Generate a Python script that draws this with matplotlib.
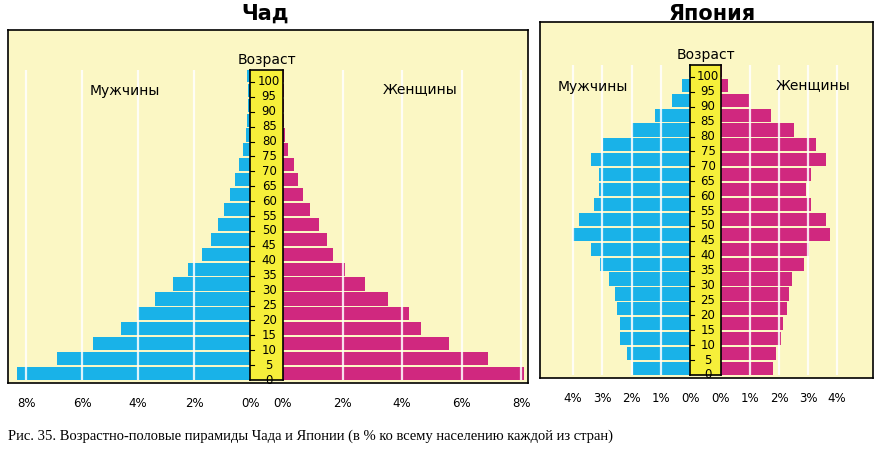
import numpy as np
import matplotlib.pyplot as plt
from matplotlib.patches import Rectangle

ages = np.arange(0, 105, 5)
age_ticks = np.arange(0, 105, 5)

chad_m = [8.33, 6.9, 5.6, 4.6, 4.0, 3.4, 2.74, 2.22, 1.72, 1.39, 1.16, 0.92, 0.73,
          0.53, 0.38, 0.24, 0.15, 0.1, 0.08, 0.06, 0.1]
chad_f = [8.27, 6.9, 5.57, 4.63, 4.22, 3.52, 2.76, 2.08, 1.67, 1.49, 1.22, 0.91, 0.68,
          0.52, 0.36, 0.18, 0.06, 0.02, 0.02, 0.02, 0.02]
japan_m = [1.94, 2.15, 2.38, 2.38, 2.48, 2.57, 2.78, 3.07, 3.39, 4.0, 3.79, 3.28, 3.11,
           3.11, 3.4, 2.97, 1.97, 1.2, 0.63, 0.26, 0.05]
japan_f = [1.78, 1.89, 2.06, 2.13, 2.28, 2.35, 2.44, 2.86, 3.02, 3.75, 3.63, 3.11, 2.92,
           3.11, 3.61, 3.27, 2.51, 1.71, 0.98, 0.24, 0.05]

BG = '#fbf7c4'
BLUE = '#19b2e8'
PINK = '#d0287f'
BAND = '#f6ef3a'

W, H = 886, 454
fig = plt.figure(figsize=(W / 100, H / 100), dpi=100)
fig.patch.set_facecolor('white')


def px_axes(x0, y0, x1, y1, **kw):
    return fig.add_axes([x0 / W, 1 - y1 / H, (x1 - x0) / W, (y1 - y0) / H], **kw)


def pyramid(frame, lx0, zl, zr, rx1, ppl, ppr, ybot, ytop, males, females, ticks, title, tx):
    # frame
    fa = px_axes(*frame)
    fa.set_facecolor(BG)
    fa.set_xticks([]); fa.set_yticks([])
    for s in fa.spines.values():
        s.set_linewidth(1.2)
    ymax = (ybot - ytop) / 2.98
    # male side
    la = px_axes(lx0, ytop, zl, ybot)
    ra = px_axes(zr, ytop, rx1, ybot)
    la.set_xlim((zl - lx0) / ppl, 0)
    ra.set_xlim(0, (rx1 - zr) / ppr)
    for ax, vals, col in ((la, males, BLUE), (ra, females, PINK)):
        ax.patch.set_alpha(0)
        ax.barh(ages, vals, height=4.4, align='edge', color=col, zorder=2)
        for t in ticks[1:]:
            ax.axvline(t, color='white', lw=1.6, zorder=3, alpha=0.85)
        ax.set_ylim(0, ymax)
        ax.set_yticks([])
        ax.set_xticks(ticks)
        ax.set_xticklabels([f'{t}%' for t in ticks], fontsize=8.5)
        ax.tick_params(axis='x', length=0, pad=12)
        for s in ax.spines.values():
            s.set_visible(False)
    # age band
    ba = px_axes(zl, ytop, zr, ybot)
    ba.set_facecolor(BAND)
    ba.set_xlim(0, 1); ba.set_ylim(0, ymax)
    ba.set_xticks([])
    ba.set_yticks([])
    for a in age_ticks:
        ba.plot([0, 0.12], [a, a], color='black', lw=0.8)
        ba.text(0.58, a, str(a), ha='center', va='center', fontsize=8.5)
    for s in ba.spines.values():
        s.set_linewidth(1.2)
    fig.text(((zl + zr) / 2) / W, 1 - (ytop - 10) / H, 'Возраст', ha='center', va='center', fontsize=10)
    fig.text(tx / W, 1 - 14 / H, title, ha='center', va='center', fontsize=15, fontweight='bold')


pyramid((8, 30, 528, 383), 12, 250, 283, 524, 28.0, 29.75, 380, 70,
        chad_m, chad_f, [0, 2, 4, 6, 8], 'Чад', 265)
fig.text(125 / W, 1 - 91 / H, 'Мужчины', ha='center', va='center', fontsize=10)
fig.text(420 / W, 1 - 89 / H, 'Женщины', ha='center', va='center', fontsize=10)

pyramid((540, 22, 873, 378), 545, 690, 721, 872, 29.25, 29.0, 375, 65,
        japan_m, japan_f, [0, 1, 2, 3, 4], 'Япония', 712)
fig.text(593 / W, 1 - 87 / H, 'Мужчины', ha='center', va='center', fontsize=10)
fig.text(813 / W, 1 - 85 / H, 'Женщины', ha='center', va='center', fontsize=10)

fig.text(8 / W, 1 - 436 / H,
         'Рис. 35. Возрастно-половые пирамиды Чада и Японии (в % ко всему населению каждой из стран)',
         ha='left', va='center', fontsize=10.5, family='Liberation Serif')

fig.savefig('out.png', dpi=100)
